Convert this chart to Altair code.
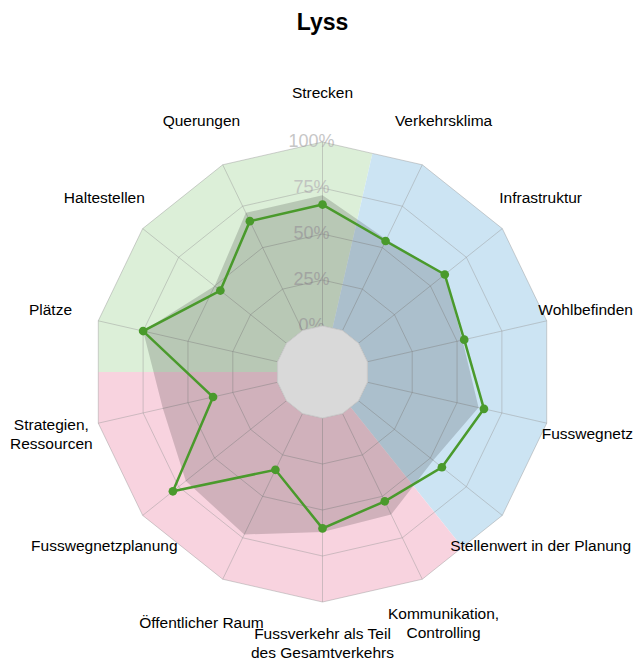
import altair as alt
import numpy as np
import pandas as pd

# ---------------- data ----------------
categories = [
    "Strecken", "Verkehrsklima", "Infrastruktur", "Wohlbefinden", "Fusswegnetz",
    "Stellenwert in der Planung", "Kommunikation,\nControlling",
    "Fussverkehr als Teil\ndes Gesamtverkehrs", "Öffentlicher Raum",
    "Fusswegnetzplanung", "Strategien,\nRessourcen", "Plätze", "Haltestellen", "Querungen",
]
lyss = [66, 54, 60, 54, 65, 58, 53, 60, 34, 79, 36, 75, 46, 66]
comparison = [71, 55, 60, 53, 62, 52, 61, 62, 73, 70, 64, 75, 50, 71]
tick_values = [0, 25, 50, 75, 100]
tick_labels = ["0%", "25%", "50%", "75%", "100%"]
sector_start = [-3.5, 0.5, 5.5]   # in axis steps
sector_end = [0.5, 5.5, 10.5]
sector_colors = ["#dcefd8", "#cce4f3", "#f8d3df"]

# ---------------- geometry ----------------
W, H = 627, 652
N = len(categories)
STEP = 2 * np.pi / N
CX, CY = 314.5, 364.0
R0, K = 46.0, 1.84          # hole radius, px per percent
ROUT = R0 + 100 * K
FS = 15.5
LH = 19

# approximate Arial/Liberation Sans advance widths (1/1000 em)
_CW = {"a": 556, "b": 556, "c": 500, "d": 556, "e": 556, "f": 278, "g": 556, "h": 556,
       "i": 222, "j": 222, "k": 500, "l": 222, "m": 833, "n": 556, "o": 556, "p": 556,
       "q": 556, "r": 333, "s": 500, "t": 278, "u": 556, "v": 500, "w": 722, "x": 500,
       "y": 500, "z": 500, "ä": 556, "ö": 556, "A": 667, "B": 667, "C": 722, "D": 722,
       "E": 667, "F": 611, "G": 778, "H": 722, "I": 278, "K": 667, "L": 556, "M": 833,
       "N": 722, "O": 778, "P": 667, "Q": 778, "R": 722, "S": 667, "T": 611, "U": 722,
       "V": 667, "W": 944, "Z": 611, "Ö": 778, " ": 278, ",": 278}


def text_w(s):
    return max(sum(_CW.get(ch, 556) for ch in line) for line in s.split("\n")) * FS / 1000


def xy(idx, r):
    t = idx * STEP
    return CX + r * np.sin(t), CY - r * np.cos(t)


X = lambda f="x": alt.X(f"{f}:Q", scale=alt.Scale(domain=[0, W], nice=False, zero=False), axis=None)
Y = lambda f="y": alt.Y(f"{f}:Q", scale=alt.Scale(domain=[H, 0], nice=False, zero=False), axis=None)


def ring(r, tag):
    rows = []
    for j in range(N + 1):
        x, y = xy(j % N, r)
        rows.append({"x": x, "y": y, "i": j, "g": tag})
    return rows


def polygon_df(values, tag):
    rows = []
    for j in range(N + 1):
        v = values[j % N]
        x, y = xy(j % N, R0 + v * K)
        rows.append({"x": x, "y": y, "i": j, "g": tag, "v": v})
    return pd.DataFrame(rows)


layers = []

# background sectors
for s, e, col in zip(sector_start, sector_end, sector_colors):
    rows = [{"x": CX, "y": CY, "i": 0}]
    pts = [s] + list(range(int(np.ceil(s)), int(np.floor(e)) + 1)) + [e]
    for k, p in enumerate(pts):
        r = ROUT if float(p).is_integer() else ROUT * np.cos(STEP / 2)
        x, y = xy(p, r)
        rows.append({"x": x, "y": y, "i": k + 1})
    rows.append({"x": CX, "y": CY, "i": len(pts) + 1})
    layers.append(
        alt.Chart(pd.DataFrame(rows)).mark_line(fill=col, strokeOpacity=0, strokeWidth=0)
        .encode(x=X(), y=Y(), order="i:Q")
    )

# percent labels
tick_df = pd.DataFrame({
    "x": [CX] * len(tick_values),
    "y": [CY - (R0 + v * K) for v in tick_values],
    "t": tick_labels,
})
layers.append(
    alt.Chart(tick_df).mark_text(font="Liberation Sans", fontSize=18, color="#bdbdbd", dx=-11,
                                 opacity=0.85, align="center", baseline="middle")
    .encode(x=X(), y=Y(), text="t:N")
)

# grid rings
ring_rows = []
for v in tick_values:
    ring_rows += ring(R0 + v * K, str(v))
layers.append(
    alt.Chart(pd.DataFrame(ring_rows)).mark_line(color="#9a9a9a", strokeWidth=1, opacity=0.45)
    .encode(x=X(), y=Y(), order="i:Q", detail="g:N")
)

# spokes
spk = []
for j in range(N):
    x1, y1 = xy(j, R0)
    x2, y2 = xy(j, ROUT)
    spk.append({"x": x1, "y": y1, "x2": x2, "y2": y2})
layers.append(
    alt.Chart(pd.DataFrame(spk)).mark_rule(color="#9a9a9a", strokeWidth=1, opacity=0.45)
    .encode(x=X(), y=Y(), x2="x2:Q", y2="y2:Q")
)

# comparison shade
layers.append(
    alt.Chart(polygon_df(comparison, "cmp")).mark_line(fill="#000000", fillOpacity=0.16,
                                                       strokeOpacity=0, strokeWidth=0)
    .encode(x=X(), y=Y(), order="i:Q")
)

# hole
layers.append(
    alt.Chart(pd.DataFrame(ring(R0, "hole"))).mark_line(fill="#d9d9d9", stroke="#cccccc", strokeWidth=1)
    .encode(x=X(), y=Y(), order="i:Q")
)

# Lyss line and points
lyss_df = polygon_df(lyss, "lyss")
layers.append(
    alt.Chart(lyss_df).mark_line(color="#4a9a2c", strokeWidth=2.5)
    .encode(x=X(), y=Y(), order="i:Q")
)
layers.append(
    alt.Chart(lyss_df.iloc[:N]).mark_circle(color="#4a9a2c", size=75, opacity=1)
    .encode(x=X(), y=Y())
)

# category labels (block centred on the label point, kept inside the drawing area)
lab = []
for j, c in enumerate(categories):
    x, y = xy(j, 279)
    half = text_w(c) / 2
    x = min(max(x, half + 2), W - 2 - half)
    nl = c.count("\n")
    y_first = y - nl * LH / 2
    y_first = min(y_first, H - 7 - nl * LH)
    lab.append({"x": x, "y": y_first, "t": c})
layers.append(
    alt.Chart(pd.DataFrame(lab)).mark_text(font="Liberation Sans", fontSize=FS, color="#000000",
                                           align="center", baseline="middle", lineBreak="\n",
                                           lineHeight=LH)
    .encode(x=X(), y=Y(), text="t:N")
)

# title
layers.append(
    alt.Chart(pd.DataFrame({"x": [CX], "y": [22], "t": ["Lyss"]}))
    .mark_text(font="Liberation Sans", fontSize=23, fontWeight="bold", color="#000000",
               align="center", baseline="alphabetic")
    .encode(x=X(), y=Y(), text="t:N")
)

chart = alt.layer(*layers).properties(
    width=W, height=H, padding=0, autosize=alt.AutoSizeParams(type="none")
).configure_view(stroke=None)

chart.save("out.html", embed_options={"renderer": "svg", "actions": False})
